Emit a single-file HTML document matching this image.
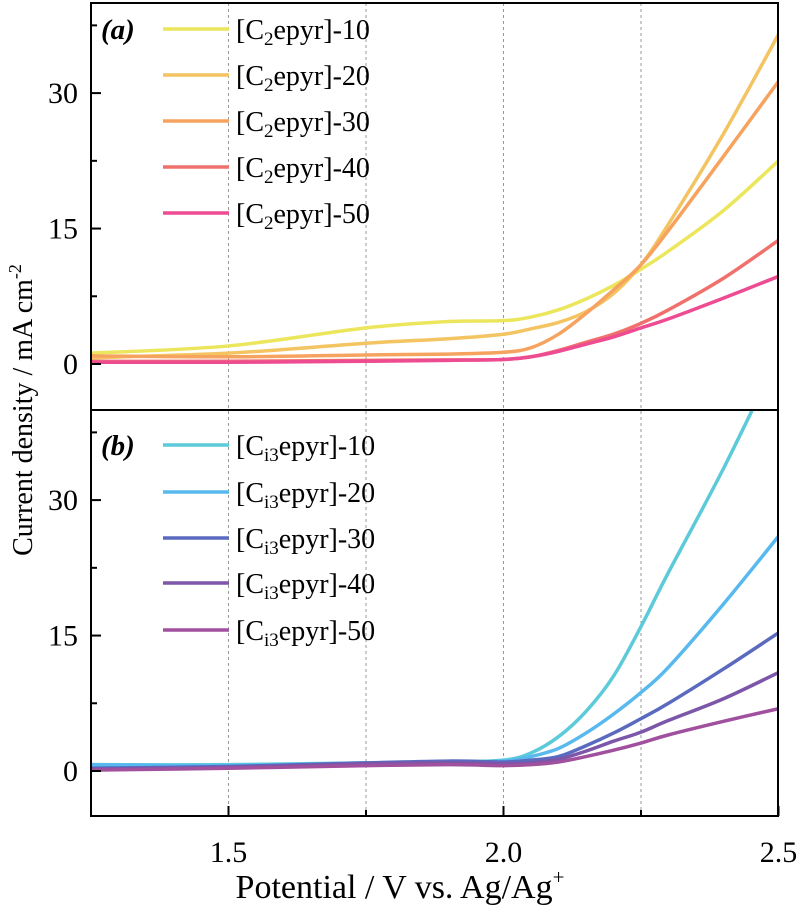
<!DOCTYPE html>
<html><head><meta charset="utf-8"><style>
html,body{margin:0;padding:0;background:#fff;}
svg{display:block;}
text{font-family:"Liberation Serif","DejaVu Serif","Times New Roman",serif;}
</style></head><body>
<svg id="chart" width="800" height="911" xmlns="http://www.w3.org/2000/svg">
<defs>
<clipPath id="clipA"><rect x="91" y="3" width="687" height="407"/></clipPath>
<clipPath id="clipB"><rect x="91" y="411" width="687" height="405"/></clipPath>
</defs>
<g id="grid"></g>
<g id="series"></g>
<g id="axes"></g>
<g id="legend"></g>
<text x="101" y="39" font-size="29" font-weight="bold" font-style="italic">(a)</text>
<text x="101" y="455" font-size="29" font-weight="bold" font-style="italic">(b)</text>
<text transform="translate(32,410) rotate(-90)" text-anchor="middle" font-size="28">Current density / mA cm<tspan dy="-11" font-size="18">-2</tspan></text>
<text x="400" y="898" text-anchor="middle" font-size="34">Potential / V vs. Ag/Ag<tspan dy="-14" font-size="21">+</tspan></text>
</svg>
<script>
const xs=[1.25,1.5,1.75,1.9,2.0,2.05,2.1,2.15,2.2,2.25,2.3,2.4,2.5];
const namesA=["[C2epyr]-10","[C2epyr]-20","[C2epyr]-30","[C2epyr]-40","[C2epyr]-50"];
const namesB=["[Ci3epyr]-10","[Ci3epyr]-20","[Ci3epyr]-30","[Ci3epyr]-40","[Ci3epyr]-50"];
const a10=[1.2,2.0,4.0,4.7,4.8,5.2,6.0,7.2,8.7,10.5,12.5,17,22.5];
const a20=[0.7,1.2,2.3,2.8,3.3,3.9,4.6,5.8,7.8,11,15.5,25.5,36.5];
const a30=[0.9,0.8,1.0,1.1,1.3,1.8,3.3,5.6,8.2,11,14.8,23,31.3];
const a40=[0.3,0.3,0.4,0.45,0.5,0.8,1.5,2.4,3.3,4.5,6,9.5,13.7];
const a50=[0.2,0.2,0.3,0.4,0.5,0.8,1.4,2.2,3.0,4.0,5.0,7.3,9.7];
const b10=[0.7,0.7,0.9,1.0,1.2,2.0,3.8,6.6,10.5,16,22,33.5,46];
const b20=[0.7,0.6,0.9,1.0,1.1,1.6,2.5,4.2,6.3,8.7,11.5,18.5,26];
const b30=[0.3,0.5,0.9,1.1,1.0,1.2,1.6,2.8,4.2,5.8,7.5,11.3,15.3];
const b40=[0.2,0.4,0.8,0.9,0.8,0.9,1.3,2.2,3.3,4.3,5.6,8.0,10.9];
const b50=[0.1,0.3,0.6,0.7,0.6,0.7,1.0,1.6,2.3,3.1,4.0,5.5,6.9];
const xTicks=[1.5,2.0,2.5];
const xTickLabels=["1.5","2.0","2.5"];
const yTicks=[0,15,30];
const yTickLabels=["0","15","30"];
const colorsA=["#ece65c","#f3c461","#f6a35f","#f0716c","#ee4c92"];
const colorsB=["#5ccad9","#57b9ee","#5a6abf","#7b56a9","#a1509e"];
const NS="http://www.w3.org/2000/svg";
const X=v=>91+(v-1.25)*550;
const YA=v=>364-v*9.03;
const YB=v=>771-v*9.03;
function mk(tag,attrs,parent){const e=document.createElementNS(NS,tag);for(const k in attrs)e.setAttribute(k,attrs[k]);parent.appendChild(e);return e;}
function pathD(xv,yv,fx,fy){
  const p=xv.map((x,i)=>[fx(x),fy(yv[i])]);
  let d="M"+p[0][0]+","+p[0][1];
  for(let i=0;i<p.length-1;i++){
    const p0=p[i-1]||p[i],p1=p[i],p2=p[i+1],p3=p[i+2]||p2;
    const c1=[p1[0]+(p2[0]-p0[0])/6,p1[1]+(p2[1]-p0[1])/6];
    const c2=[p2[0]-(p3[0]-p1[0])/6,p2[1]-(p3[1]-p1[1])/6];
    d+=" C"+c1[0]+","+c1[1]+" "+c2[0]+","+c2[1]+" "+p2[0]+","+p2[1];
  }
  return d;
}
const grid=document.getElementById('grid');
[1.5,1.75,2.0,2.25].forEach(v=>{
  const l=mk('line',{x1:X(v),x2:X(v),y1:3,y2:816,stroke:'#999','stroke-width':1,'stroke-dasharray':'3,3'},grid);
  
  
});
const ser=document.getElementById('series');
const gA=mk('g',{'clip-path':'url(#clipA)'},ser);
const gB=mk('g',{'clip-path':'url(#clipB)'},ser);
const dataA=[a10,a20,a30,a40,a50], dataB=[b10,b20,b30,b40,b50];
dataA.forEach((s,i)=>{
  const p=mk('path',{d:pathD(xs,s,X,YA),fill:'none',stroke:colorsA[i],'stroke-width':3.5},gA);
  
  
});
dataB.forEach((s,i)=>{
  const p=mk('path',{d:pathD(xs,s,X,YB),fill:'none',stroke:colorsB[i],'stroke-width':3.5},gB);
  
  
});
const ax=document.getElementById('axes');
const fa=mk('rect',{x:91,y:3,width:687,height:407,fill:'none',stroke:'#000','stroke-width':2},ax);


const fb=mk('rect',{x:91,y:410,width:687,height:406,fill:'none',stroke:'#000','stroke-width':2},ax);


[YA,YB].forEach((Y,pi)=>{
  yTicks.forEach((v,i)=>{
    mk('line',{x1:91,x2:101,y1:Y(v),y2:Y(v),stroke:'#000','stroke-width':2},ax);
    const t=mk('text',{x:78,y:Y(v)+10,'text-anchor':'end','font-size':30},ax);
    t.textContent=yTickLabels[i];
    
    
  });
  [7.5,22.5,37.5].forEach(v=>mk('line',{x1:91,x2:97,y1:Y(v),y2:Y(v),stroke:'#000','stroke-width':2},ax));
});
xTicks.forEach((v,i)=>{
  mk('line',{x1:X(v),x2:X(v),y1:806,y2:816,stroke:'#000','stroke-width':2},ax);
  const t=mk('text',{x:X(v),y:862,'text-anchor':'middle','font-size':30},ax);
  t.textContent=xTickLabels[i];
  
  
});
[1.75,2.25].forEach(v=>mk('line',{x1:X(v),x2:X(v),y1:810,y2:816,stroke:'#000','stroke-width':2},ax));
const lg=document.getElementById('legend');
function legend(names,colors,ys,sub){
  names.forEach((n,i)=>{
    const g=mk('g',{},lg);
    
    
    mk('line',{x1:163,x2:229,y1:ys[i],y2:ys[i],stroke:colors[i],'stroke-width':3.5},g);
    const t=mk('text',{x:236,y:ys[i]+10,'font-size':28},g);
    t.innerHTML='[C<tspan dy="6" font-size="19">'+sub+'</tspan><tspan dy="-6">epyr]-'+((i+1)*10)+'</tspan>';
  });
}
legend(namesA,colorsA,[29,75,121,167,213],'2');
legend(namesB,colorsB,[445,492,538,583,630],'i3');
</script>
</body></html>
